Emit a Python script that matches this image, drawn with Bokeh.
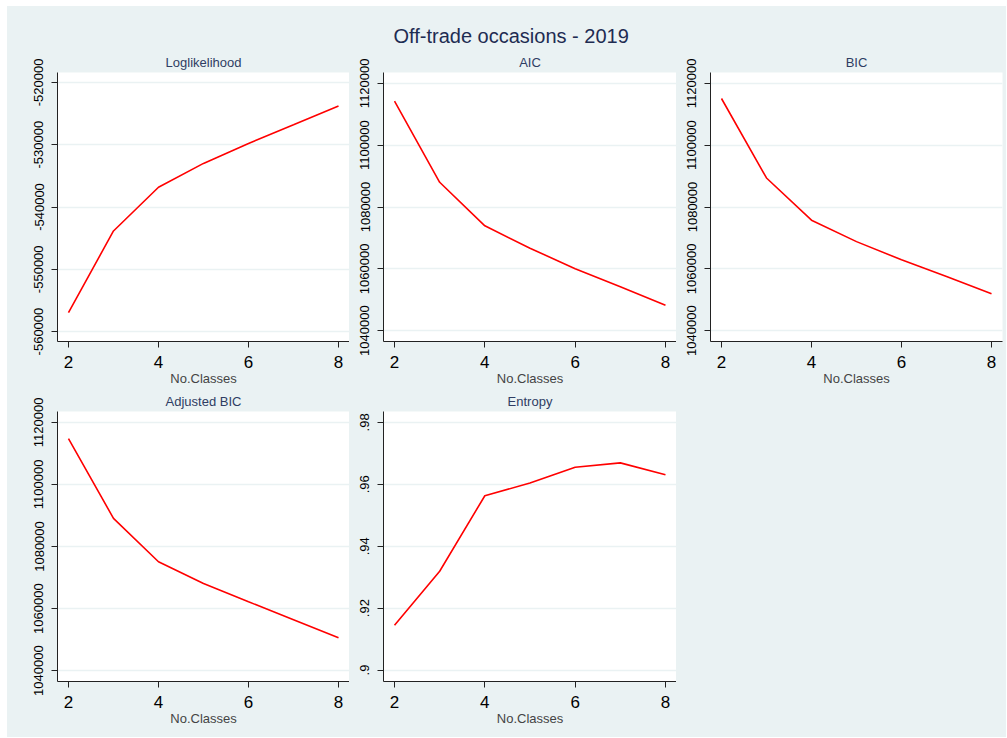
from bokeh.plotting import figure
from bokeh.models import Title, FixedTicker, Range1d, Spacer
from bokeh.layouts import column, row
from bokeh.embed import file_html
from bokeh.resources import INLINE

# ---- data ----
n_classes = [2, 3, 4, 5, 6, 7, 8]
loglik = [-556950, -543850, -536830, -533000, -529800, -526800, -523770]
aic = [1114240, 1088000, 1073920, 1066670, 1060050, 1054190, 1048210]
bic = [1115090, 1089390, 1075730, 1068800, 1062930, 1057490, 1051950]
abic = [1114770, 1089070, 1075090, 1068050, 1062190, 1056430, 1050560]
entropy = [0.9145, 0.9319, 0.9563, 0.9604, 0.9655, 0.9669, 0.9631]

x_ticks = [2, 4, 6, 8]
loglik_ticks = [-560000, -550000, -540000, -530000, -520000]
loglik_tick_labels = ["-560000", "-550000", "-540000", "-530000", "-520000"]
ic_ticks = [1040000, 1060000, 1080000, 1100000, 1120000]
ic_tick_labels = ["1040000", "1060000", "1080000", "1100000", "1120000"]
entropy_ticks = [0.90, 0.92, 0.94, 0.96, 0.98]
entropy_tick_labels = [".9", ".92", ".94", ".96", ".98"]

main_title = "Off-trade occasions - 2019"
x_label = "No.Classes"

BG = "#EAF2F3"
FONT = "Liberation Sans"


def make_panel(title, y, yrange, yticks, labels, width, height,
               mbl, mbt, mbb, mbr, title_standoff=6, extra_title=None):
    p = figure(width=width, height=height, output_backend="svg",
               toolbar_location=None, x_range=Range1d(1.756, 8.244),
               y_range=Range1d(*yrange), min_border_left=mbl,
               min_border_top=mbt, min_border_bottom=mbb,
               min_border_right=mbr, title=None)
    p.background_fill_color = "white"
    p.border_fill_color = BG
    p.outline_line_color = None
    p.line(n_classes, y, line_color="#FF0000", line_width=1.6)

    p.xaxis.ticker = FixedTicker(ticks=x_ticks)
    p.yaxis.ticker = FixedTicker(ticks=yticks)
    p.xgrid.visible = False
    p.ygrid.grid_line_color = BG
    p.ygrid.grid_line_width = 1.5
    p.yaxis.major_label_overrides = {v: l for v, l in zip(yticks, labels)}

    for ax in (p.xaxis[0], p.yaxis[0]):
        ax.axis_line_color = "#222222"
        ax.major_tick_line_color = "#222222"
        ax.major_tick_out = 6
        ax.major_tick_in = 0
        ax.minor_tick_line_color = None
        ax.major_label_text_font = FONT
        ax.major_label_text_color = "black"
    p.xaxis.major_label_text_font_size = "17px"
    p.xaxis.major_label_standoff = 8
    p.yaxis.major_label_text_font_size = "13px"
    p.yaxis.major_label_orientation = "vertical"
    p.yaxis.major_label_standoff = 8
    p.xaxis.axis_label = x_label
    p.xaxis.axis_label_text_font = FONT
    p.xaxis.axis_label_text_font_size = "13px"
    p.xaxis.axis_label_text_font_style = "normal"
    p.xaxis.axis_label_standoff = 0

    p.add_layout(Title(text=title, align="center", text_font=FONT,
                       text_font_size="13px", text_font_style="normal",
                       text_color="#2f3d63", standoff=title_standoff), "above")
    if extra_title is not None:
        p.add_layout(Title(text=extra_title, align="left", text_font=FONT,
                           text_font_size="20px", text_font_style="normal",
                           text_color="#1e2c52", standoff=6, offset=10),
                     "above")
    return p


H1, H2 = 382, 349
W1, W2, W3 = 342, 327, 330
ic_range = (1036500, 1123500)

p1 = make_panel("Loglikelihood", loglik, (-561600, -518400), loglik_ticks,
                loglik_tick_labels, W1, H1, 50, 66, 45, 0)
p2 = make_panel("AIC", aic, ic_range, ic_ticks, ic_tick_labels,
                W2, H1, 34, 66, 45, 0, extra_title=main_title)
p3 = make_panel("BIC", bic, ic_range, ic_ticks, ic_tick_labels,
                W3, H1, 34, 66, 45, 4)
p4 = make_panel("Adjusted BIC", abic, ic_range, ic_ticks, ic_tick_labels,
                W1, H2, 50, 21, 56, 0)
p5 = make_panel("Entropy", entropy, (0.8963, 0.9835), entropy_ticks,
                entropy_tick_labels, W2, H2, 34, 21, 56, 0)
sp = Spacer(width=W3, height=H2, styles={"background-color": BG})

layout = column(row(p1, p2, p3, spacing=0), row(p4, p5, sp, spacing=0),
                spacing=0,
                styles={"background-color": BG, "margin-left": "7px",
                        "margin-top": "6px"})

open("out.html", "w").write(file_html(layout, INLINE))
